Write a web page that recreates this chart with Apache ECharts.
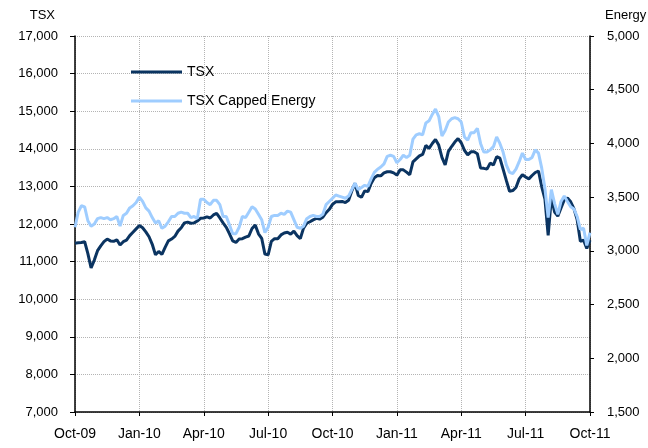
<!DOCTYPE html>
<html>
<head>
<meta charset="utf-8">
<script src="https://cdn.jsdelivr.net/npm/echarts@6/dist/echarts.min.js"></script>
<style>
  html, body { margin: 0; padding: 0; background: #fff; }
  #main { width: 648px; height: 448px; }
</style>
</head>
<body>
<div id="main"></div>
<script>
// tick labels on the x axis (one every 20 points)
var tickLabels = ['Oct-09', 'Jan-10', 'Apr-10', 'Jul-10', 'Oct-10', 'Jan-11', 'Apr-11', 'Jul-11', 'Oct-11'];

// TSX composite index (left axis)
var tsx = [
  11490, 11500, 11510, 11530, 11210, 10830, 11040, 11290, 11420, 11530,
  11600, 11550, 11540, 11580, 11440, 11530, 11570, 11690, 11780, 11870,
  11960, 11900, 11790, 11660, 11460, 11180, 11270, 11190, 11380, 11550,
  11600, 11670, 11810, 11900, 12030, 12050, 12020, 12030, 12080, 12150,
  12160, 12190, 12160, 12240, 12280, 12160, 12030, 11910, 11740, 11550,
  11510, 11600, 11610, 11650, 11680, 11880, 11970, 11740, 11620, 11200,
  11180, 11540, 11610, 11610, 11710, 11760, 11780, 11730, 11810, 11690,
  11610, 11890, 12020, 12060, 12110, 12150, 12130, 12180, 12300, 12390,
  12520, 12590, 12590, 12600, 12570, 12630, 12880, 13080, 12760, 12710,
  12880, 12860, 13080, 13230, 13290, 13280, 13360, 13390, 13390, 13360,
  13300, 13440, 13440, 13380, 13310, 13650, 13730, 13810, 13850, 14090,
  14010, 14140, 14250, 14100, 13770, 13570, 13930, 14060, 14180, 14270,
  14160, 13960, 13840, 13920, 13920, 13870, 13490, 13480, 13460, 13620,
  13570, 13790, 13750, 13460, 13160, 12870, 12890, 12970, 13200, 13310,
  13250, 13200, 13290, 13370, 13410, 12990, 12660, 11700, 12700, 12320,
  12210, 12430, 12640, 12690, 12590, 12410, 12120, 11540, 11570, 11350,
  11570
];

// TSX Capped Energy index (right axis)
var energy = [
  3220, 3360, 3420, 3410, 3280, 3230, 3250, 3300, 3310, 3300,
  3310, 3290, 3300, 3320, 3230, 3330, 3350, 3400, 3420, 3450,
  3500, 3460, 3400, 3370, 3310, 3260, 3280, 3210, 3230, 3270,
  3320, 3320, 3350, 3360, 3350, 3350, 3310, 3320, 3300, 3480,
  3480, 3450, 3430, 3470, 3470, 3430, 3320, 3320, 3240, 3160,
  3160, 3220, 3320, 3310, 3360, 3410, 3390, 3340, 3290, 3170,
  3220, 3320, 3330, 3330, 3350, 3340, 3370, 3360, 3290, 3220,
  3210, 3230, 3300, 3320, 3330, 3320, 3320, 3340, 3430, 3460,
  3490, 3520, 3510, 3500, 3490, 3510, 3570, 3630, 3570, 3590,
  3610, 3600, 3670, 3730, 3760, 3780, 3810, 3880, 3890, 3880,
  3820, 3850, 3890, 3870, 3890, 4040, 4080, 4090, 4080, 4190,
  4210, 4270, 4320, 4250, 4070, 4120, 4200, 4230, 4240, 4230,
  4200, 4060, 4030, 4100, 4100, 4140, 4000, 3920, 3920, 3940,
  3970, 4060, 4000, 3920, 3800, 3730, 3720, 3760, 3830, 3910,
  3850, 3850, 3870, 3940, 3910, 3770, 3580, 3310, 3570, 3440,
  3340, 3460, 3510, 3460, 3410, 3390, 3320, 3200, 3210, 3050,
  3170
];

var step = (tsx.length - 1) / (tickLabels.length - 1);
var categories = tsx.map(function (v, i) { return String(i); });

var font = '"Liberation Sans", Arial, sans-serif';
var darkBlue = '#0b3461';
var lightBlue = '#9fcdff';
var gridColor = '#b4b4b4';

var myChart = echarts.init(document.getElementById('main'));

option = {
    backgroundColor: '#fff',
    animation: false,
    textStyle: { fontFamily: font },
    grid: { left: 75, right: 58, top: 36, bottom: 36, containLabel: false, outerBoundsMode: 'none' },
    legend: {
        orient: 'vertical',
        left: 126,
        top: 60,
        itemWidth: 51,
        itemHeight: 3,
        itemGap: 15,
        textStyle: { color: '#000', fontSize: 14, fontFamily: font },
        data: [
            { name: 'TSX', icon: 'rect' },
            { name: 'TSX Capped Energy', icon: 'rect' }
        ]
    },
    xAxis: {
        type: 'category',
        data: categories,
        boundaryGap: false,
        axisLine: { lineStyle: { color: '#000', width: 1.5 } },
        axisTick: { show: true, interval: step - 1, length: 4, lineStyle: { color: '#000' } },
        axisLabel: {
            interval: step - 1,
            color: '#000',
            fontSize: 14,
            margin: 15,
            formatter: function (v, idx) { return tickLabels[Math.round(idx / step)]; }
        },
        splitLine: { show: true, interval: step - 1, lineStyle: { color: gridColor, type: 'dotted' } }
    },
    yAxis: [
        {
            type: 'value',
            name: 'TSX',
            nameLocation: 'end',
            nameGap: 14,
            nameTextStyle: { color: '#000', fontSize: 13, align: 'right', padding: [0, 20, 0, 0] },
            min: 7000,
            max: 17000,
            interval: 1000,
            axisLine: { show: true, lineStyle: { color: '#000', width: 1.5 } },
            axisTick: { show: true, length: 5, lineStyle: { color: '#000' } },
            axisLabel: {
                color: '#000',
                fontSize: 13,
                margin: 17,
                formatter: function (v) { return v.toLocaleString('en-US'); }
            },
            splitLine: { show: true, lineStyle: { color: gridColor, type: 'dotted' } }
        },
        {
            type: 'value',
            name: 'Energy',
            nameLocation: 'end',
            nameGap: 14,
            nameTextStyle: { color: '#000', fontSize: 13, align: 'left', padding: [0, 0, 0, 15] },
            min: 1500,
            max: 5000,
            interval: 500,
            position: 'right',
            axisLine: { show: true, lineStyle: { color: '#000', width: 1.5 } },
            axisTick: { show: true, length: 4, lineStyle: { color: '#000' } },
            axisLabel: {
                color: '#000',
                fontSize: 13,
                margin: 17,
                formatter: function (v) { return v.toLocaleString('en-US'); }
            },
            splitLine: { show: false }
        }
    ],
    series: [
        {
            name: 'TSX',
            type: 'line',
            yAxisIndex: 0,
            data: tsx,
            symbol: 'none',
            lineStyle: { color: darkBlue, width: 3 },
            itemStyle: { color: darkBlue }
        },
        {
            name: 'TSX Capped Energy',
            type: 'line',
            yAxisIndex: 1,
            data: energy,
            symbol: 'none',
            lineStyle: { color: lightBlue, width: 3 },
            itemStyle: { color: lightBlue }
        }
    ]
};

myChart.setOption(option);
</script>
</body>
</html>
